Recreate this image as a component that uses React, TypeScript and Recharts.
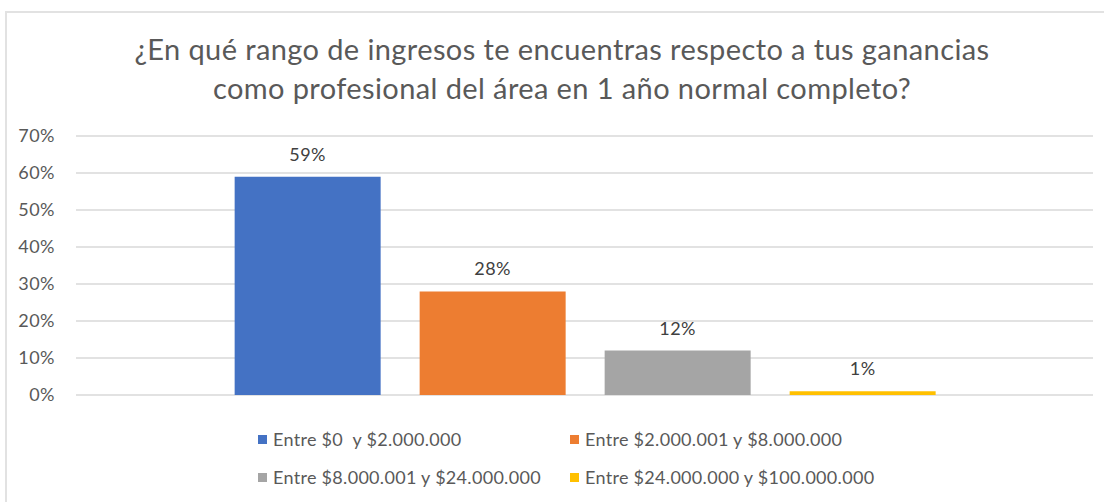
import { BarChart, Bar, XAxis, YAxis, CartesianGrid, Legend, LabelList } from "recharts";

const title = [
  "¿En qué rango de ingresos te encuentras respecto a tus ganancias",
  "como profesional del área en 1 año normal completo?",
];

const seriesNames = [
  "Entre $0  y $2.000.000",
  "Entre $2.000.001 y $8.000.000",
  "Entre $8.000.001 y $24.000.000",
  "Entre $24.000.000 y $100.000.000",
];
const seriesValues = [59, 28, 12, 1];
const seriesColors = ["#4472C4", "#ED7D31", "#A5A5A5", "#FFC000"];
const yTicks = [0, 10, 20, 30, 40, 50, 60, 70];

const seriesKeys = seriesNames.map((_, i) => `s${i}`);
const data = [
  seriesKeys.reduce<Record<string, number | string>>(
    (row, key, i) => ({ ...row, [key]: seriesValues[i] }),
    { name: "Ingresos" }
  ),
];

const font = "Lato, 'Open Sans', sans-serif";

// two columns, two rows, like the spreadsheet legend
const legendCols = [258, 570];
const legendRows = [44, 82];

const LegendBox = () => (
  <div style={{ position: "relative", height: 100, width: "100%" }}>
    {seriesNames.map((name, i) => (
      <div
        key={name}
        style={{
          position: "absolute",
          left: legendCols[i % 2],
          top: legendRows[Math.floor(i / 2)] - 11,
          height: 22,
          display: "flex",
          alignItems: "center",
          whiteSpace: "pre",
          fontFamily: font,
          fontSize: 18,
          letterSpacing: 0.3,
          color: "#595959",
        }}
      >
        <span
          style={{
            display: "inline-block",
            width: 9,
            height: 9,
            background: seriesColors[i],
            marginRight: 6,
          }}
        />
        {name}
      </div>
    ))}
  </div>
);

export default function App() {
  return (
    <div
      style={{
        position: "absolute",
        left: 0,
        top: 0,
        width: 1104,
        height: 502,
        overflow: "hidden",
        background: "#fff",
      }}
    >
      <div
        style={{
          position: "absolute",
          left: 5,
          top: 11,
          width: 1120,
          height: 520,
          borderLeft: "2px solid #e2e2e2",
          borderTop: "2px solid #e2e2e2",
        }}
      />
      <div
        style={{
          position: "absolute",
          left: 12,
          top: 29,
          width: 1100,
          textAlign: "center",
          fontFamily: font,
          fontSize: 29,
          letterSpacing: 0.4,
          lineHeight: "39px",
          color: "#595959",
        }}
      >
        {title.map((line) => (
          <div key={line}>{line}</div>
        ))}
      </div>
      <div style={{ position: "absolute", left: 0, top: 0 }}>
        <BarChart
          width={1104}
          height={502}
          data={data}
          margin={{ top: 136, right: 11, bottom: 7, left: 0 }}
          barCategoryGap="15.6%"
          barGap={39}
        >
          <CartesianGrid vertical={false} stroke="#d9d9d9" strokeWidth={1.5} />
          <XAxis dataKey="name" hide />
          <YAxis
            width={76}
            domain={[0, 70]}
            ticks={yTicks}
            tickFormatter={(v) => `${v}%`}
            axisLine={false}
            tickLine={false}
            tickSize={0}
            tickMargin={21}
            tick={{ fill: "#595959", fontSize: 18, fontFamily: font, letterSpacing: 0.5 }}
          />
          <Legend verticalAlign="bottom" content={() => <LegendBox />} />
          {seriesKeys.map((key, i) => (
            <Bar
              key={key}
              dataKey={key}
              name={seriesNames[i]}
              fill={seriesColors[i]}
              isAnimationActive={false}
            >
              <LabelList
                dataKey={key}
                position="top"
                offset={16}
                formatter={(v: number) => `${v}%`}
                style={{ fill: "#404040", fontSize: 18, fontFamily: font, letterSpacing: 0.5 }}
              />
            </Bar>
          ))}
        </BarChart>
      </div>
    </div>
  );
}
